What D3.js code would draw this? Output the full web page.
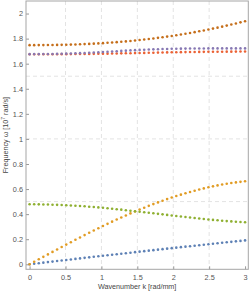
<!DOCTYPE html>
<html>
<head>
<meta charset="utf-8">
<script src="https://cdn.jsdelivr.net/npm/d3@7"></script>
<style>
html, body { margin: 0; padding: 0; background: #fff; }
svg { display: block; font-family: 'Liberation Sans', Arial, sans-serif; }
</style>
</head>
<body>
<svg id="chart" width="250" height="293"></svg>
<script>
// wavenumber grid k [rad/mm]
const wavenumbers = [0, 0.0638, 0.1277, 0.1915, 0.2553, 0.3191, 0.3830, 0.4468, 0.5106, 0.5745,
    0.6383, 0.7021, 0.7660, 0.8298, 0.8936, 0.9574, 1.0213, 1.0851, 1.1489, 1.2128,
    1.2766, 1.3404, 1.4043, 1.4681, 1.5319, 1.5957, 1.6596, 1.7234, 1.7872, 1.8511,
    1.9149, 1.9787, 2.0426, 2.1064, 2.1702, 2.2340, 2.2979, 2.3617, 2.4255, 2.4894,
    2.5532, 2.6170, 2.6809, 2.7447, 2.8085, 2.8723, 2.9362, 3.0000]

// frequencies [10^7 rad/s], one array per branch
const branchBlue = [0, 0.0043, 0.0087, 0.0130, 0.0173, 0.0215, 0.0258, 0.0301, 0.0343, 0.0386,
    0.0428, 0.0470, 0.0512, 0.0554, 0.0596, 0.0637, 0.0679, 0.0720, 0.0762, 0.0803,
    0.0844, 0.0885, 0.0925, 0.0966, 0.1006, 0.1047, 0.1087, 0.1127, 0.1167, 0.1207,
    0.1247, 0.1287, 0.1326, 0.1366, 0.1405, 0.1444, 0.1483, 0.1522, 0.1561, 0.1600,
    0.1638, 0.1677, 0.1715, 0.1753, 0.1791, 0.1829, 0.1867, 0.1905]
const branchOrange = [0, 0.0198, 0.0396, 0.0593, 0.0790, 0.0986, 0.1181, 0.1376, 0.1569, 0.1760,
    0.1951, 0.2139, 0.2326, 0.2511, 0.2693, 0.2873, 0.3051, 0.3226, 0.3399, 0.3568,
    0.3734, 0.3897, 0.4057, 0.4213, 0.4366, 0.4515, 0.4660, 0.4801, 0.4938, 0.5070,
    0.5198, 0.5322, 0.5441, 0.5556, 0.5665, 0.5770, 0.5870, 0.5965, 0.6054, 0.6139,
    0.6218, 0.6291, 0.6360, 0.6422, 0.6480, 0.6531, 0.6577, 0.6618]
const branchGreen = [0.4790, 0.4785, 0.4779, 0.4773, 0.4767, 0.4754, 0.4742, 0.4729, 0.4714, 0.4692,
    0.4670, 0.4648, 0.4624, 0.4595, 0.4565, 0.4536, 0.4504, 0.4467, 0.4431, 0.4394,
    0.4356, 0.4315, 0.4275, 0.4234, 0.4193, 0.4151, 0.4108, 0.4066, 0.4024, 0.3981,
    0.3939, 0.3897, 0.3855, 0.3812, 0.3770, 0.3728, 0.3688, 0.3650, 0.3611, 0.3572,
    0.3540, 0.3509, 0.3477, 0.3446, 0.3422, 0.3398, 0.3374, 0.3350]
const branchRed = [1.6750, 1.6751, 1.6753, 1.6754, 1.6755, 1.6756, 1.6758, 1.6759, 1.6761, 1.6764,
    1.6768, 1.6772, 1.6776, 1.6780, 1.6784, 1.6787, 1.6793, 1.6800, 1.6808, 1.6816,
    1.6823, 1.6831, 1.6838, 1.6846, 1.6854, 1.6861, 1.6869, 1.6877, 1.6885, 1.6892,
    1.6900, 1.6907, 1.6913, 1.6919, 1.6924, 1.6929, 1.6934, 1.6939, 1.6944, 1.6949,
    1.6952, 1.6955, 1.6957, 1.6960, 1.6962, 1.6965, 1.6967, 1.6970]
const branchPurple = [1.6760, 1.6763, 1.6765, 1.6768, 1.6771, 1.6778, 1.6786, 1.6794, 1.6802, 1.6815,
    1.6828, 1.6840, 1.6854, 1.6872, 1.6890, 1.6908, 1.6928, 1.6951, 1.6974, 1.6997,
    1.7018, 1.7039, 1.7059, 1.7080, 1.7098, 1.7113, 1.7128, 1.7144, 1.7156, 1.7166,
    1.7176, 1.7187, 1.7193, 1.7199, 1.7204, 1.7209, 1.7212, 1.7214, 1.7217, 1.7220,
    1.7220, 1.7220, 1.7220, 1.7220, 1.7220, 1.7220, 1.7220, 1.7220]
const branchBrown = [1.7480, 1.7480, 1.7481, 1.7483, 1.7487, 1.7491, 1.7497, 1.7504, 1.7513, 1.7523,
    1.7534, 1.7548, 1.7563, 1.7579, 1.7598, 1.7618, 1.7640, 1.7664, 1.7690, 1.7718,
    1.7748, 1.7779, 1.7813, 1.7849, 1.7887, 1.7927, 1.7969, 1.8014, 1.8060, 1.8109,
    1.8160, 1.8213, 1.8269, 1.8327, 1.8387, 1.8450, 1.8514, 1.8582, 1.8651, 1.8723,
    1.8798, 1.8875, 1.8955, 1.9037, 1.9121, 1.9208, 1.9298, 1.9390]

const branches = [branchBlue, branchOrange, branchGreen, branchRed, branchPurple, branchBrown]
const branchColors = ['#5e81b5', '#e19c24', '#8fb032', '#eb6235', '#8778b3', '#c56e1a']

const xTicks = [0, 0.5, 1, 1.5, 2, 2.5, 3]
const yTicks = [0, 0.2, 0.4, 0.6, 0.8, 1, 1.2, 1.4, 1.6, 1.8, 2]
const xGrid = [0.5, 1, 1.5, 2, 2.5]
const yGrid = [0.5, 1, 1.5]

const margin = { left: 26, right: 248.3, top: 1, bottom: 269.3 }
const svg = d3.select('#chart')

const x = d3.scaleLinear().domain([-0.05, 3.045]).range([margin.left, margin.right])
const y = d3.scaleLinear().domain([-0.04, 2.1]).range([margin.bottom, margin.top])

// dashed grid
svg.append('g').selectAll('line').data(xGrid).enter().append('line')
    .attr('x1', d => x(d)).attr('x2', d => x(d))
    .attr('y1', margin.top).attr('y2', margin.bottom)
svg.append('g').selectAll('line').data(yGrid).enter().append('line')
    .attr('x1', margin.left).attr('x2', margin.right)
    .attr('y1', d => y(d)).attr('y2', d => y(d))
svg.selectAll('g line')
    .attr('stroke', '#e3e3e3')
    .attr('stroke-width', 1)
    .attr('stroke-dasharray', '4,3')

// frame + inside ticks
const xAxis = svg.append('g')
    .attr('transform', `translate(0,${margin.bottom})`)
    .call(d3.axisBottom(x).tickValues(xTicks).tickSize(-3).tickPadding(6).tickFormat(d3.format('~g')))
const yAxis = svg.append('g')
    .attr('transform', `translate(${margin.left},0)`)
    .call(d3.axisLeft(y).tickValues(yTicks).tickSize(-3).tickPadding(3).tickFormat(d3.format('~g')))

for (let axis of [xAxis, yAxis]) {
    axis.select('.domain').remove()
    axis.selectAll('.tick line').attr('stroke', '#999')
    axis.selectAll('.tick text')
        .attr('fill', '#555')
        .style('font-size', '7.3px')
        .style('font-family', "'Liberation Sans', Arial, sans-serif")
}

svg.append('rect')
    .attr('x', margin.left).attr('y', margin.top)
    .attr('width', margin.right - margin.left)
    .attr('height', margin.bottom - margin.top)
    .attr('fill', 'none')
    .attr('stroke', '#a6a6a6')
    .attr('stroke-width', 1)

// points, one series at a time so later branches sit on top
branches.forEach((values, i) => {
    svg.append('g').selectAll('circle')
        .data(values)
        .enter()
        .append('circle')
        .attr('cx', (d, j) => x(wavenumbers[j]))
        .attr('cy', d => y(d))
        .attr('r', 1.3)
        .attr('fill', branchColors[i])
})

// axis titles
svg.append('text')
    .attr('x', (margin.left + margin.right) / 2)
    .attr('y', 289)
    .attr('text-anchor', 'middle')
    .attr('fill', '#444')
    .style('font-size', '7.2px')
    .text('Wavenumber k [rad/mm]')

const yTitle = svg.append('text')
    .attr('transform', `translate(7.6,${(margin.top + margin.bottom) / 2}) rotate(-90)`)
    .attr('text-anchor', 'middle')
    .attr('fill', '#444')
    .style('font-size', '7.2px')
yTitle.append('tspan').text('Frequency ω [10')
yTitle.append('tspan').attr('dy', -2.8).style('font-size', '5px').text('7')
yTitle.append('tspan').attr('dy', 2.8).text(' rad/s]')
</script>
</body>
</html>
